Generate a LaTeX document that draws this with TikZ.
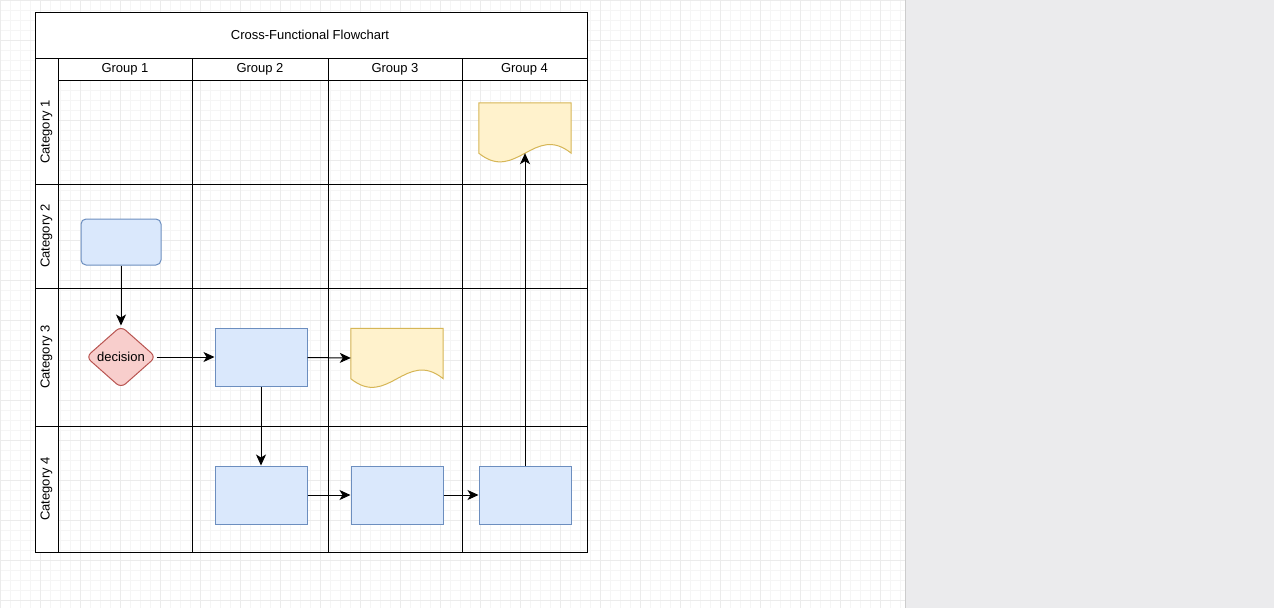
\documentclass[tikz,border=0pt]{standalone}
\usepackage{fontspec}
\setmainfont{Liberation Sans}
\usetikzlibrary{shapes.geometric,arrows.meta,calc}
\definecolor{blueF}{HTML}{DAE8FC}\definecolor{blueD}{HTML}{6C8EBF}
\definecolor{redF}{HTML}{F8CECC}\definecolor{redD}{HTML}{B85450}
\definecolor{yelF}{HTML}{FFF2CC}\definecolor{yelD}{HTML}{D6B656}
\definecolor{panel}{HTML}{EBEBED}
\tikzset{
  lbl/.style={font=\fontsize{13}{15}\selectfont},
  task/.style={draw=blueD,fill=blueF,line width=1pt,minimum width=92pt,minimum height=58pt,inner sep=0pt},
  doc/.style={minimum width=92pt,minimum height=59pt,inner sep=0pt},
  flow/.style={draw,-{Stealth[length=11pt,width=10pt,inset=3pt]},line width=1pt},
}
\newcommand\docwave[1]{%
  \filldraw[draw=yelD,fill=yelF,line width=1pt] (#1.north west) -- (#1.north east)
    -- ($(#1.south east)+(0,-9)$)
    .. controls ($(#1.south east)+(-37,-39)$) and ($(#1.south west)+(37,21)$) .. ($(#1.south west)+(0,-9)$)
    -- cycle;}
\begin{document}
\begin{tikzpicture}[x=1pt,y=-1pt]
\useasboundingbox (0,0) rectangle (1274,608);
% canvas grid
\fill[white] (0,0) rectangle (905,608);
\foreach \g in {0,10,...,900} \draw[black!4,line width=0.5pt] (\g,0) -- (\g,608);
\foreach \g in {0,10,...,600} \draw[black!4,line width=0.5pt] (0,\g) -- (905,\g);
\foreach \g in {0,40,...,900} \draw[black!8,line width=0.6pt] (\g,0) -- (\g,608);
\foreach \g in {0,40,...,600} \draw[black!8,line width=0.6pt] (0,\g) -- (905,\g);
\fill[panel] (905,0) rectangle (1274,608);
\draw[black!20] (905,0) -- (905,608);
% pool
\fill[white] (35,12) rectangle (587,80);
\fill[white] (35,80) rectangle (58,552);
\draw[line width=1pt] (35,12) rectangle (587,552);
\draw[line width=1pt] (35,58) -- (587,58) (58,80) -- (587,80) (58,58) -- (58,552);
\foreach \x in {192,328,462} \draw[line width=1pt] (\x,58) -- (\x,552);
\foreach \y in {184,288,426} \draw[line width=1pt] (35,\y) -- (587,\y);
\node[lbl] (title) at (310,35) {Cross-Functional Flowchart};
\node[lbl] (g1) at (125,69) {Group 1};
\node[lbl] (g2) at (260,69) {Group 2};
\node[lbl] (g3) at (395,69) {Group 3};
\node[lbl] (g4) at (524.5,69) {Group 4};
\node[lbl,rotate=90] (c1) at (46.5,132) {Category 1};
\node[lbl,rotate=90] (c2) at (46.5,236) {Category 2};
\node[lbl,rotate=90] (c3) at (46.5,357) {Category 3};
\node[lbl,rotate=90] (c4) at (46.5,489) {Category 4};
% shapes
\node[draw=blueD,fill=blueF,line width=1pt,rounded corners=5pt,minimum width=80pt,minimum height=46pt] (start) at (121,242) {};
\node[diamond,draw=redD,fill=redF,line width=1pt,rounded corners=6pt,minimum width=70pt,minimum height=62pt,inner sep=0pt,aspect=1.13,lbl] (dec) at (121,357) {decision};
\node[task] (t1) at (261,357) {};
\node[doc] (d1) at (397,358) {};
\docwave{d1}
\node[task] (t2) at (261,495) {};
\node[task] (t3) at (397,495) {};
\node[task] (t4) at (525,495) {};
\node[doc] (d2) at (525,132.5) {};
\docwave{d2}
% connectors
\draw[flow] (start) -- (dec);
\draw[flow] (dec) -- (t1);
\draw[flow] (t1) -- (d1.west);
\draw[flow] (t1) -- (t2);
\draw[flow] (t2) -- (t3);
\draw[flow] (t3) -- (t4);
\draw[flow] (t4) -- ($(d2.south)+(0,-9)$);
\end{tikzpicture}
\end{document}
